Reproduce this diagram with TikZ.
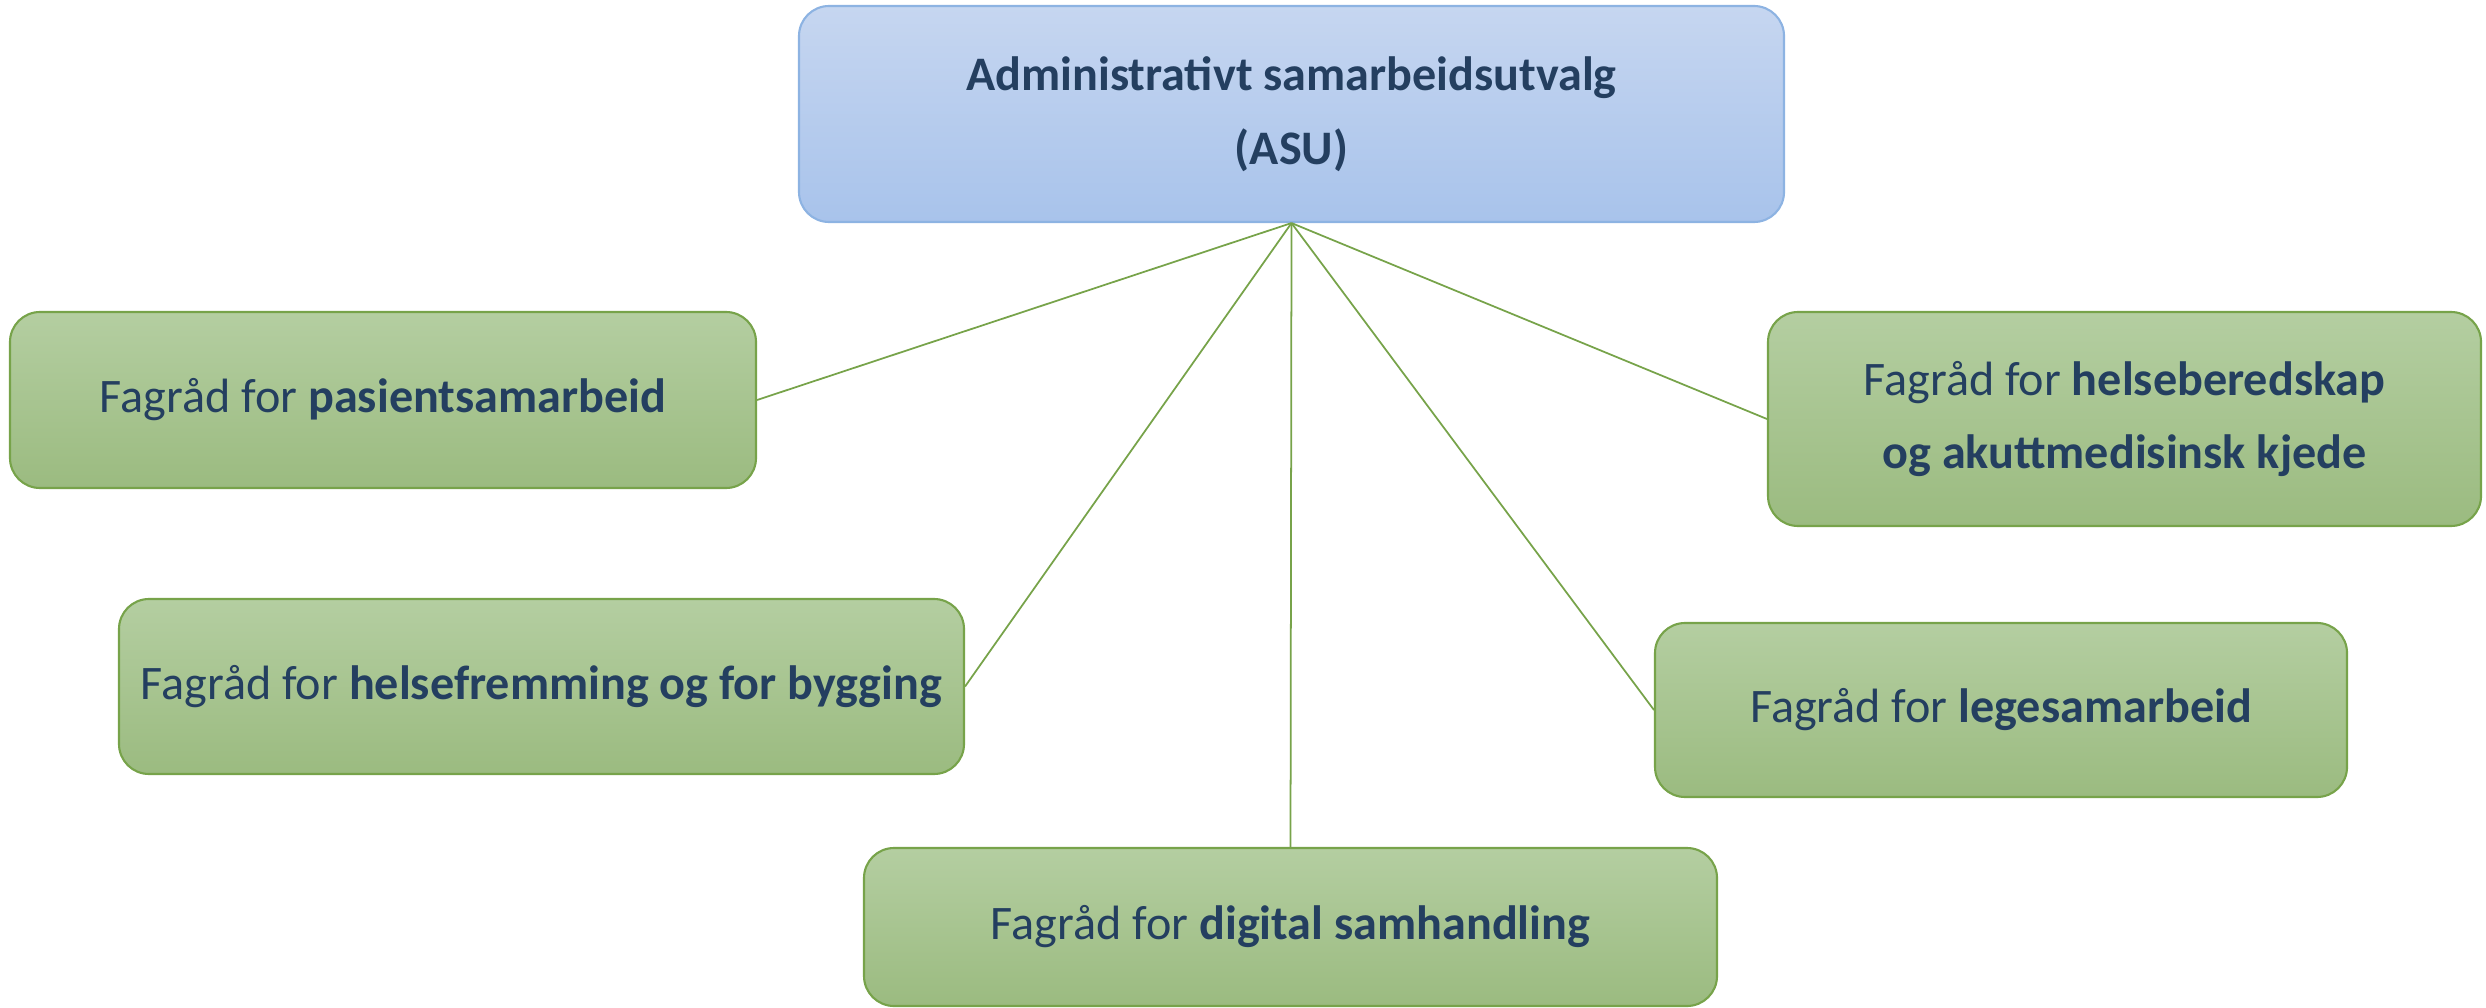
\documentclass[tikz,border=0pt]{standalone}
\usepackage{fontspec}
\setmainfont{Carlito}
\usetikzlibrary{shapes}
\definecolor{asutop}{HTML}{C6D6F0}
\definecolor{asubottom}{HTML}{A8C3EB}
\definecolor{asuline}{HTML}{8DB3E2}
\definecolor{fagtop}{HTML}{B4CEA1}
\definecolor{fagbottom}{HTML}{9BBB80}
\definecolor{fagline}{HTML}{77A34A}
\definecolor{textblue}{HTML}{243F60}
\tikzstyle{asu} = [rectangle, rounded corners=0.3cm, minimum width=9.85cm, minimum height=2.16cm, text centered, align=center, draw=asuline, line width=0.6pt, top color=asutop, bottom color=asubottom, text=textblue, font=\fontsize{13.7}{21}\selectfont\bfseries]
\tikzstyle{fagrad} = [rectangle, rounded corners=0.3cm, text centered, align=center, draw=fagline, line width=0.6pt, top color=fagtop, bottom color=fagbottom, text=textblue, font=\fontsize{13.7}{21}\selectfont]
\tikzstyle{edge} = [draw=fagline, line width=0.5pt]

\begin{document}
\begin{tikzpicture}
\useasboundingbox (0,0) rectangle (24.86,-10.08);

\node (0) [asu] at (12.915,-1.14) {Administrativt samarbeidsutvalg\\(ASU)};
\node (1) [fagrad, minimum width=7.46cm, minimum height=1.76cm] at (3.83,-4.00) {Fagråd for \textbf{pasientsamarbeid}};
\node (2) [fagrad, minimum width=8.45cm, minimum height=1.75cm] at (5.415,-6.865) {Fagråd for \textbf{helsefremming og for bygging}};
\node (3) [fagrad, minimum width=8.53cm, minimum height=1.58cm] at (12.905,-9.27) {Fagråd for \textbf{digital samhandling}};
\node (4) [fagrad, minimum width=6.92cm, minimum height=1.74cm] at (20.01,-7.10) {Fagråd for \textbf{legesamarbeid}};
\node (5) [fagrad, minimum width=7.13cm, minimum height=2.14cm] at (21.245,-4.19) {Fagråd for \textbf{helseberedskap}\\\textbf{og akuttmedisinsk kjede}};

\draw [edge] (0.south) -- (1.east);
\draw [edge] (0.south) -- (2.east);
\draw [edge] (0.south) -- (3.north);
\draw [edge] (0.south) -- (4.west);
\draw [edge] (0.south) -- (5.west);

\end{tikzpicture}
\end{document}
